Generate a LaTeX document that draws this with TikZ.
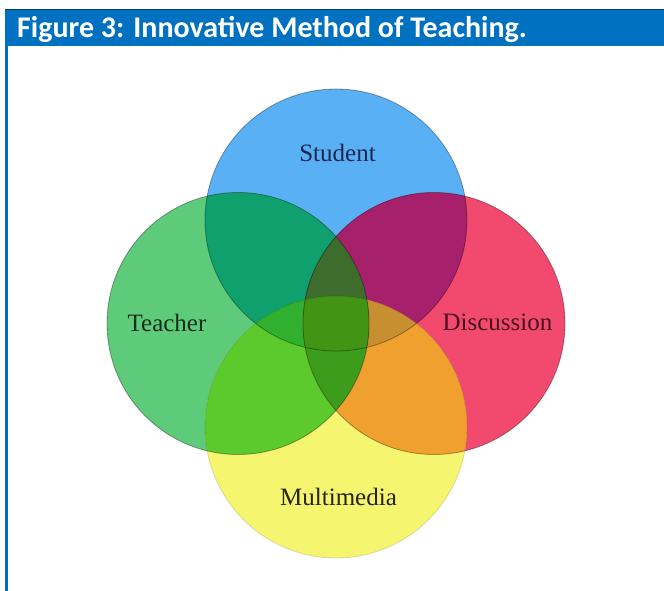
\documentclass[tikz,border=0pt]{standalone}
\usepackage{fontspec}
\setmainfont{Liberation Serif}
\newfontfamily\titlefont{Carlito}
\usepackage{tikz}
\usetikzlibrary{positioning}

\definecolor{barblue}{RGB}{0,112,192}
\definecolor{sonly}{RGB}{90,176,245}
\definecolor{tonly}{RGB}{93,203,121}
\definecolor{donly}{RGB}{242,74,110}
\definecolor{monly}{RGB}{245,245,112}
\definecolor{stcol}{RGB}{15,160,110}
\definecolor{sdcol}{RGB}{166,32,108}
\definecolor{tmcol}{RGB}{92,201,44}
\definecolor{dmcol}{RGB}{240,160,46}
\definecolor{stmcol}{RGB}{48,176,46}
\definecolor{sdmcol}{RGB}{200,142,50}
\definecolor{stdcol}{RGB}{62,108,44}
\definecolor{tdmcol}{RGB}{62,156,28}
\definecolor{allcol}{RGB}{66,148,20}
\definecolor{studentink}{RGB}{25,40,80}
\definecolor{teacherink}{RGB}{22,45,26}
\definecolor{discussink}{RGB}{72,16,30}
\definecolor{mediaink}{RGB}{36,36,20}

\tikzset{
  ringname/.style={font=\fontsize{25}{30}\selectfont, inner sep=0pt},
  rim/.style={draw=black, draw opacity=0.35, line width=0.8pt},
  softrim/.style={draw=black, draw opacity=0.12, line width=0.8pt}
}

\begin{document}
\begin{tikzpicture}[x=1pt,y=-1pt]
  \useasboundingbox (0,0) rectangle (664,591);
  \fill[white] (0,0) rectangle (664,591);
  % title bar and frame
  \fill[barblue] (5,9) rectangle (664,46);
  \draw[barblue!55!black, line width=0.6pt] (5,9) -- (664,9);
  \fill[barblue] (5,46) rectangle (8,591);
  \node (title) [anchor=base west, text=white, inner sep=0pt,
    font=\titlefont\bfseries\fontsize{30}{36}\selectfont] at (17,37.5)
    {Figure 3: Innovative Method of Teaching.};

  \def\ringr{131pt}
  \coordinate (s) at (336,220);
  \coordinate (t) at (238,323.5);
  \coordinate (d) at (434,323.5);
  \coordinate (m) at (336,427);

  % single rings
  \fill[sonly] (s) circle (\ringr);
  \fill[tonly] (t) circle (\ringr);
  \fill[donly] (d) circle (\ringr);
  \fill[monly] (m) circle (\ringr);
  % pairs
  \begin{scope}
    \clip (s) circle (\ringr);
    \fill[stcol] (t) circle (\ringr);
    \fill[sdcol] (d) circle (\ringr);
  \end{scope}
  \begin{scope}
    \clip (m) circle (\ringr);
    \fill[tmcol] (t) circle (\ringr);
    \fill[dmcol] (d) circle (\ringr);
  \end{scope}
  % triples
  \begin{scope}
    \clip (s) circle (\ringr);
    \clip (m) circle (\ringr);
    \fill[stmcol] (t) circle (\ringr);
    \fill[sdmcol] (d) circle (\ringr);
  \end{scope}
  \begin{scope}
    \clip (t) circle (\ringr);
    \clip (d) circle (\ringr);
    \fill[stdcol] (s) circle (\ringr);
    \fill[tdmcol] (m) circle (\ringr);
  \end{scope}
  % all four
  \begin{scope}
    \clip (s) circle (\ringr);
    \clip (m) circle (\ringr);
    \clip (t) circle (\ringr);
    \fill[allcol] (d) circle (\ringr);
  \end{scope}
  % outlines
  \draw[rim] (s) circle (\ringr);
  \draw[rim] (t) circle (\ringr);
  \draw[rim] (d) circle (\ringr);
  \draw[softrim] (m) circle (\ringr);

  \node (student) [ringname, text=studentink] at (337.5,153) {Student};
  \node (teacher) [ringname, text=teacherink] at (167,323) {Teacher};
  \node (discussion) [ringname, text=discussink] at (497.5,322) {Discussion};
  \node (multimedia) [ringname, text=mediaink] at (338.5,497) {Multimedia};
\end{tikzpicture}
\end{document}
